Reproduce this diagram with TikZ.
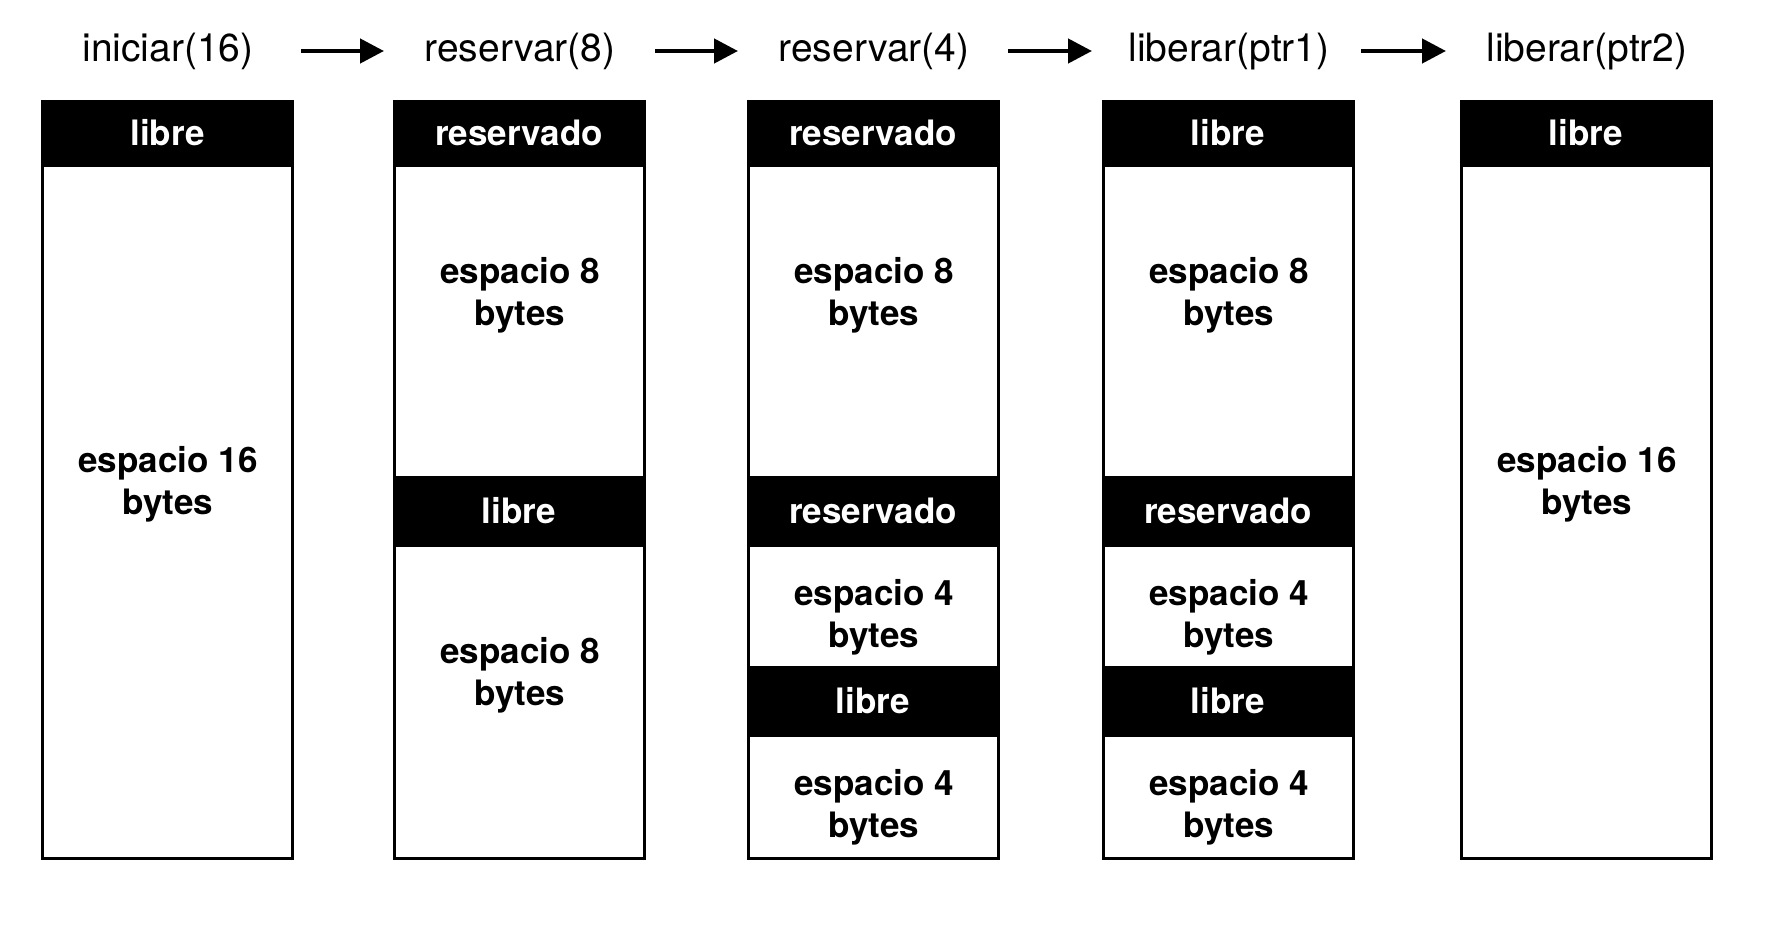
\documentclass[tikz,border=0pt]{standalone}
\usepackage{fontspec}
\setmainfont{TeX Gyre Heros}
\usetikzlibrary{arrows.meta}
\begin{document}
\begin{tikzpicture}[x=1pt,y=-1pt,
  titl/.style={font=\fontsize{39}{44}\selectfont, anchor=base, inner sep=0},
  hdr/.style={draw=black, fill=black, line width=3pt, minimum width=250pt, inner sep=0, text=white, font=\fontsize{35}{42}\selectfont\bfseries},
  cell/.style={draw=black, line width=3pt, minimum width=250pt, inner sep=0},
  lbl/.style={font=\fontsize{35}{42}\selectfont\bfseries, align=center, inner sep=0},
  flow/.style={line width=4.5pt, -{Triangle[length=24pt,width=24pt]}}]
\useasboundingbox[fill=white] (0,0) rectangle (1778,932);

% titles
\node[titl] (t1) at (168,61) {iniciar(16)};
\node[titl] (t2) at (520,61) {reservar(8)};
\node[titl] (t3) at (874,61) {reservar(4)};
\node[titl] (t4) at (1229,61) {liberar(ptr1)};
\node[titl] (t5) at (1587,61) {liberar(ptr2)};

% arrows
\coordinate (a1s) at (301,51); \coordinate (a1e) at (384,51);
\coordinate (a2s) at (655,51); \coordinate (a2e) at (738,51);
\coordinate (a3s) at (1008,51); \coordinate (a3e) at (1092,51);
\coordinate (a4s) at (1361,51); \coordinate (a4e) at (1446,51);
\draw[flow] (a1s) -- (a1e);
\draw[flow] (a2s) -- (a2e);
\draw[flow] (a3s) -- (a3e);
\draw[flow] (a4s) -- (a4e);

% column 1
\node[cell, minimum height=693pt] (c1b) at (167.5,511.5) {};
\node[hdr, minimum height=64pt] (c1h) at (167.5,133) {libre};
\node[lbl] (c1l) at (168,484) {espacio 16\\bytes};

% column 2
\node[cell, minimum height=312pt] (c2b1) at (519,321) {};
\node[cell, minimum height=313pt] (c2b2) at (519,701.5) {};
\node[hdr, minimum height=64pt] (c2h1) at (519,133) {reservado};
\node[hdr, minimum height=68pt] (c2h2) at (519,511) {libre};
\node[lbl] (c2l1) at (520,295) {espacio 8\\bytes};
\node[lbl] (c2l2) at (520,675) {espacio 8\\bytes};

% column 3
\node[cell, minimum height=312pt] (c3b1) at (873,321) {};
\node[cell, minimum height=122pt] (c3b2) at (873,606) {};
\node[cell, minimum height=123pt] (c3b3) at (873,796.5) {};
\node[hdr, minimum height=64pt] (c3h1) at (873,133) {reservado};
\node[hdr, minimum height=68pt] (c3h2) at (873,511) {reservado};
\node[hdr, minimum height=68pt] (c3h3) at (873,701) {libre};
\node[lbl] (c3l1) at (874,295) {espacio 8\\bytes};
\node[lbl] (c3l2) at (874,617) {espacio 4\\bytes};
\node[lbl] (c3l3) at (874,807) {espacio 4\\bytes};

% column 4
\node[cell, minimum height=312pt] (c4b1) at (1228,321) {};
\node[cell, minimum height=122pt] (c4b2) at (1228,606) {};
\node[cell, minimum height=123pt] (c4b3) at (1228,796.5) {};
\node[hdr, minimum height=64pt] (c4h1) at (1228,133) {libre};
\node[hdr, minimum height=68pt] (c4h2) at (1228,511) {reservado};
\node[hdr, minimum height=68pt] (c4h3) at (1228,701) {libre};
\node[lbl] (c4l1) at (1229,295) {espacio 8\\bytes};
\node[lbl] (c4l2) at (1229,617) {espacio 4\\bytes};
\node[lbl] (c4l3) at (1229,807) {espacio 4\\bytes};

% column 5
\node[cell, minimum height=693pt] (c5b) at (1586,511.5) {};
\node[hdr, minimum height=64pt] (c5h) at (1586,133) {libre};
\node[lbl] (c5l) at (1587,484) {espacio 16\\bytes};
\end{tikzpicture}
\end{document}
